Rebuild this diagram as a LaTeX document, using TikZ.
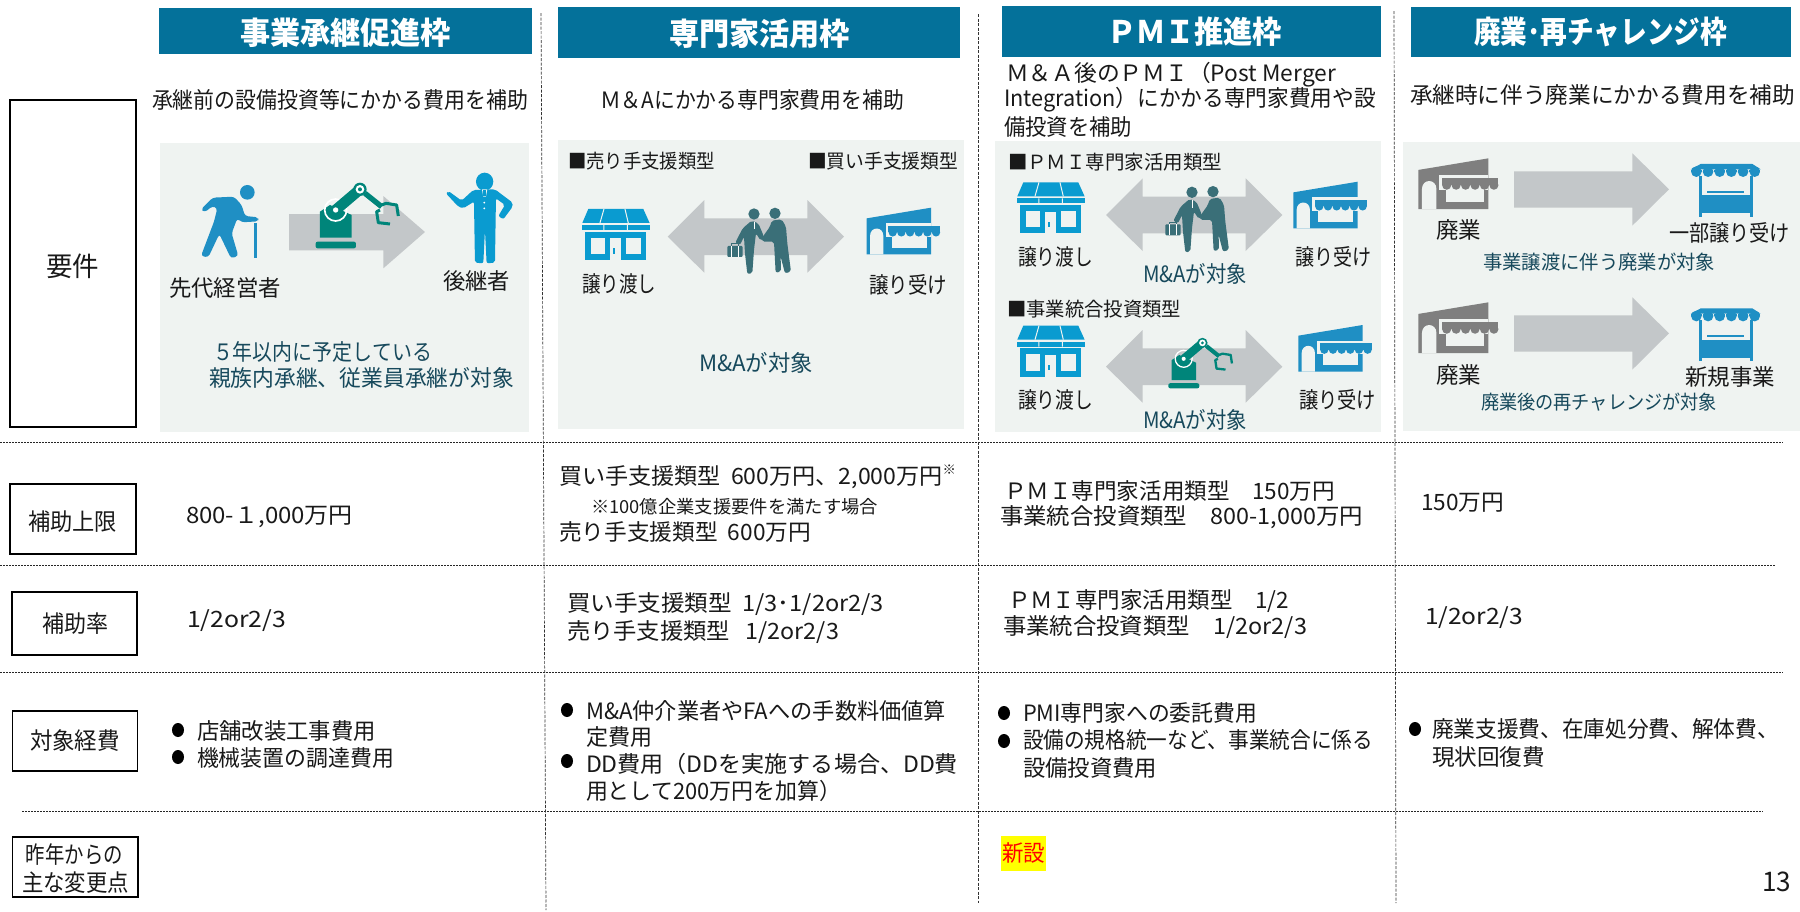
\documentclass[tikz,border=0pt]{standalone}
\usepackage{graphicx}
\usepackage{fontspec}
\setmainfont{Noto Sans CJK JP}
\definecolor{barblue}{HTML}{04719A}
\definecolor{panelbg}{HTML}{EFF3F1}
\definecolor{arrowgrey}{HTML}{C3C7C9}
\definecolor{iconblue}{HTML}{0A9BD0}
\definecolor{iconmid}{HTML}{1F8FC4}
\definecolor{icongrey}{HTML}{7F7F7F}
\definecolor{robotgreen}{HTML}{00857A}
\definecolor{mangreen}{HTML}{3A6F78}
\definecolor{noteteal}{HTML}{17495C}
\definecolor{newyellow}{HTML}{FFFF00}
\newsavebox\fitbox
\newcommand\fitw[2]{\sbox\fitbox{\rule[-.12em]{0pt}{1em}#2}\pgfmathsetmacro\fitr{#1/\the\wd\fitbox}\scalebox{\fitr}[1]{\usebox\fitbox}}
\newcommand\T[6][]{\node[tx,#1] (#2) at (#3,#4) {\fitw{#5}{#6}};}
\tikzset{
  tx/.style={anchor=west,inner sep=0pt,outer sep=0pt,text=black!90,font=\fontsize{22.5}{26}\selectfont},
  head/.style={text=white,font=\fontsize{31}{34}\selectfont\bfseries},
  small/.style={font=\fontsize{19.5}{23}\selectfont},
  note/.style={text=noteteal},
  bar/.style={fill=barblue,draw=none},
  panel/.style={fill=panelbg,draw=none},
  labelbox/.style={draw=black,line width=1.5pt,fill=white,inner sep=0pt},
  rowline/.style={draw=black!85,line width=.7pt,dash pattern=on 2pt off 1pt},
  colline/.style={draw=black!80,line width=.7pt,dash pattern=on 3pt off 1.5pt},
}
% double headed arrow, left tip at (#1,#2)
\newcommand\dblarrow[2]{\begin{scope}[shift={(#1,#2)},x=.3333pt,y=-.3333pt]
\fill[arrowgrey] (0,0)--(110,108)--(110,55)--(419,55)--(419,108)--(529,0)--(419,-110)--(419,-55)--(110,-55)--(110,-110)--cycle;
\end{scope}}
% single arrow: x, y, start of head, tip
\newcommand\onearrow[4]{\begin{scope}[shift={(#1,#2)},x=.3333pt,y=-.3333pt]
\fill[arrowgrey] (0,-54)--(#3,-54)--(#3,-108)--(#4,0)--(#3,109)--(#3,55)--(0,55)--cycle;
\end{scope}}
% store
\newcommand\storeicon[3]{\begin{scope}[shift={(#1,#2)},x=#3pt,y=-#3pt]
\fill[iconblue] (18,2)--(183,2)--(202,44)--(0,44)--cycle;
\fill[iconblue] (0,50) rectangle (202,65);
\fill[iconblue] (8,70) rectangle (191,155);
\fill[panelbg] (25,88) rectangle (68,137);
\fill[panelbg] (131,88) rectangle (175,137);
\fill[panelbg] (83,90) rectangle (115,155);
\fill[iconblue] (92,120) rectangle (98,136);
\draw[panelbg,line width=1pt] (65,2)--(53,44) (65,50)--(65,65) (128,2)--(138,44) (135,50)--(135,65);
\end{scope}}
% awning shop
\newcommand\awnshop[4]{\begin{scope}[shift={(#1,#2)},x=#3pt,y=-#3pt]
\fill[#4] (0,32)--(193,0)--(193,140)--(0,140)--cycle;
\fill[panelbg] (10,140)--(10,85).. controls (10,55) and (50,55) .. (50,85)--(50,140)--cycle;
\fill[panelbg] (57,47) rectangle (193,88);
\fill[panelbg] (75,85) rectangle (180,120);
\fill[#4] (65,54) rectangle (220,74);
\foreach \q in {78,104,130,156,182,208}{\fill[#4] (\q,74) circle (12.5);}
\end{scope}}
% stall
\newcommand\stallicon[3]{\begin{scope}[shift={(#1,#2)},x=#3pt,y=-#3pt]
\fill[iconmid] (30,2)--(185,2)--(210,18)--(0,18)--cycle;
\foreach \q in {17,52,87,122,157,192}{\fill[iconmid] (\q-16,20) rectangle (\q+16,25); \fill[iconmid] (\q,25) circle (16);}
\fill[iconmid] (24,38) rectangle (33,160);
\fill[iconmid] (178,38) rectangle (187,160);
\fill[iconmid] (24,96) rectangle (187,150);
\fill[iconmid] (50,82) rectangle (160,88);
\end{scope}}
% robot
\newcommand\robot[3]{\begin{scope}[shift={(#1,#2)},x=#3pt,y=-#3pt]
\fill[robotgreen,rounded corners=2pt] (557,335) rectangle (678,355);
\fill[robotgreen] (570,323)--(570,245)--(600,225)--(665,255)--(665,323)--cycle;
\draw[white,line width={5*#3 pt}] (617,240) circle (33);
\draw[robotgreen,line width={32*#3 pt},line cap=round] (617,240)--(690,178);
\fill[white] (617,240) circle (8);
\fill[robotgreen] (690,178) circle (20);
\fill[white] (690,178) circle (13);
\fill[robotgreen] (690,178) circle (6);
\draw[robotgreen,line width={16*#3 pt}] (705,190)--(755,230);
\draw[robotgreen,line width={9*#3 pt},line join=round] (755,225)--(768,220)--(800,225)--(805,258);
\draw[robotgreen,line width={9*#3 pt},line join=round] (750,240)--(740,245)--(745,278)--(780,282);
\end{scope}}
% handshake
\newcommand\shakeicon[3]{\begin{scope}[shift={(#1,#2)},x=#3pt,y=-#3pt]
\fill[mangreen] (612,252) circle (17);
\fill[mangreen] (675,250) circle (17);
\fill[mangreen,rounded corners=2pt] (605,272)--(625,280)--(640,315)--(642,328)--(632,332)--(618,310)--(612,360)--(607,430)--(592,432)--(585,370)--(582,320)--(570,345)--(556,338)--(578,295)--cycle;
\draw[white,line width=.5pt] (612,275)--(612,298);
\fill[mangreen,rounded corners=2pt] (665,272)--(695,268)--(708,290)--(712,340)--(723,425)--(705,430)--(692,380)--(693,425)--(677,428)--(672,335)--(650,335)--(637,335)--(635,325)--(660,290)--cycle;
\fill[mangreen,rounded corners=1pt] (532,348) rectangle (578,381);
\draw[mangreen,line width=.8pt] (545,348)--(545,341)--(565,341)--(565,348);
\draw[white,line width=.5pt] (545,348)--(545,381) (565,348)--(565,381);
\end{scope}}
% old man with a cane
\newcommand\oldman[3]{\begin{scope}[shift={(#1,#2)},x=#3pt,y=-#3pt]
\fill[iconmid] (352,187) circle (22);
\fill[iconmid,rounded corners=3pt] (213,238)--(248,203)--(312,200)--(335,225)--(345,258)--(385,262)--(385,274)--(335,277)--(322,265)--(305,310)--(325,378)--(303,385)--(268,312)--(235,382)--(213,378)--(252,275)--(262,235)--(248,228)--(224,247)--cycle;
\fill[iconmid] (373,280) rectangle (381,385);
\end{scope}}
% businessman
\newcommand\bossman[3]{\begin{scope}[shift={(#1,#2)},x=#3pt,y=-#3pt]
\fill[iconblue] (1064,155) ellipse (26 and 27);
\fill[iconblue,rounded corners=2pt] (948,190)--(955,183)--(995,212)--(1030,180)--(1095,178)--(1148,218)--(1148,230)--(1120,268)--(1105,258)--(1125,225)--(1098,205)--(1095,398)--(1070,400)--(1065,300)--(1060,400)--(1035,398)--(1032,215)--(1000,235)--(985,230)--cycle;
\fill[panelbg] (1056,178)--(1072,178)--(1068,200)--(1060,200)--cycle;
\fill[iconblue] (1060,180) rectangle (1068,198);
\fill[white] (1063,218) circle (3);
\fill[white] (1063,235) circle (3);
\end{scope}}
\begin{document}
\begin{tikzpicture}[x=1pt,y=-1pt]
\useasboundingbox (0,0) rectangle (1800,911);
\fill[white] (0,0) rectangle (1800,911);
% panels
\fill[panel] (160,143) rectangle (529,432);
\fill[panel] (558,140) rectangle (964,429);
\fill[panel] (995,141) rectangle (1381,432);
\fill[panel] (1403,142) rectangle (1800,431);
% header bars
\fill[bar] (159,8) rectangle (532,54);
\fill[bar] (558,7) rectangle (960,58);
\fill[bar] (1002,6) rectangle (1381,57);
\fill[bar] (1411,7) rectangle (1791,57);
% grid lines
\draw[rowline] (0,442)--(1783,442);
\draw[rowline] (0,565)--(1775,565);
\draw[rowline] (0,672)--(1783,672);
\draw[rowline] (22,811)--(1763,811);
\draw[colline] (541,13)--(546,910);
\draw[colline] (978,14)--(978,903);
\draw[colline] (1394,11)--(1396,903);
% label boxes
\node[labelbox,minimum width=126pt,minimum height=327pt] (boxreq) at (73,263.5) {};
\node[labelbox,minimum width=126pt,minimum height=70pt] (boxcap) at (73,519) {};
\node[labelbox,minimum width=125pt,minimum height=63pt] (boxrate) at (74.5,623.5) {};
\node[labelbox,minimum width=125pt,minimum height=60pt] (boxcost) at (75,741) {};
\node[labelbox,minimum width=125.5pt,minimum height=60pt] (boxchange) at (75.2,867) {};
\T[font=\fontsize{27}{30}\selectfont]{treq}{46}{266}{53}{要件}
\T[font=\fontsize{23.5}{26}\selectfont]{tcap}{28}{522}{89}{補助上限}
\T[font=\fontsize{23.5}{26}\selectfont]{trate}{42}{624}{66}{補助率}
\T[font=\fontsize{23.5}{26}\selectfont]{tcost}{30}{741}{90}{対象経費}
\T[font=\fontsize{23.5}{26}\selectfont]{tch1}{26}{855}{97}{昨年からの}
\T[font=\fontsize{23.5}{26}\selectfont]{tch2}{22}{883}{107}{主な変更点}
% headers
\T[head]{h1}{240}{33}{211}{事業承継促進枠}
\T[head]{h2}{669}{34}{181}{専門家活用枠}
\T[head]{h3}{1107}{32}{175}{ＰＭＩ推進枠}
\T[head]{h4}{1474}{32}{253}{廃業･再チャレンジ枠}
% subtitles
\T{s1}{152}{100}{376}{承継前の設備投資等にかかる費用を補助}
\T{s2}{600}{100}{304}{Ｍ＆Aにかかる専門家費用を補助}
\T{s3a}{1006}{74}{330}{Ｍ＆Ａ後のＰＭＩ（Post Merger}
\T{s3b}{1004}{99}{372}{Integration）にかかる専門家費用や設}
\T{s3c}{1004}{127}{128}{備投資を補助}
\T{s4}{1410}{95}{385}{承継時に伴う廃業にかかる費用を補助}
% panel 1
\onearrow{289}{232}{283}{408}
\oldman{130}{130}{.3333}
\robot{130}{130}{.3333}
\bossman{130}{130}{.3333}
\T{p1a}{169}{288}{112}{先代経営者}
\T{p1b}{443}{281}{67}{後継者}
\T[note]{p1c}{213}{352}{219}{５年以内に予定している}
\T[note]{p1d}{209}{378}{305}{親族内承継、従業員承継が対象}
% panel 2
\T[small]{p2a}{568}{161}{147}{■売り手支援類型}
\T[small]{p2b}{808}{161}{150}{■買い手支援類型}
\dblarrow{667.7}{236.7}
\shakeicon{550}{130}{.3333}
\storeicon{582.3}{208.3}{.3333}
\awnshop{866.7}{207.7}{.3333}{iconmid}
\T{p2c}{582}{284}{74}{譲り渡し}
\T{p2d}{869}{285}{78}{譲り受け}
\T[note]{p2e}{699}{363}{114}{M\&Aが対象}
% panel 3
\T[small]{p3a}{1008}{162}{214}{■ＰＭＩ専門家活用類型}
\dblarrow{1106}{215}
\shakeicon{988}{108.3}{.3333}
\storeicon{1017.3}{181.7}{.3333}
\awnshop{1293.3}{181.7}{.3333}{iconmid}
\T{p3b}{1018}{257}{75}{譲り渡し}
\T{p3c}{1295}{257}{76}{譲り受け}
\T[note]{p3d}{1143}{274}{104}{M\&Aが対象}
\T[small]{p3e}{1007}{309}{174}{■事業統合投資類型}
\dblarrow{1106}{366.7}
\robot{1025.3}{297.2}{.2567}
\storeicon{1017.3}{325}{.3333}
\awnshop{1298.3}{325}{.3333}{iconmid}
\T{p3f}{1018}{400}{75}{譲り渡し}
\T{p3g}{1299}{400}{77}{譲り受け}
\T[note]{p3h}{1143}{420}{104}{M\&Aが対象}
% panel 4
\awnshop{1418.3}{158.3}{.3636}{icongrey}
\onearrow{1514}{189.3}{355}{465}
\stallicon{1690.7}{163.3}{.3333}
\T{p4a}{1436}{230}{45}{廃業}
\T{p4b}{1669}{233}{121}{一部譲り受け}
\T[note,small]{p4c}{1483}{262}{232}{事業譲渡に伴う廃業が対象}
\awnshop{1418.3}{302.3}{.3636}{icongrey}
\onearrow{1514}{333.3}{355}{465}
\stallicon{1690.7}{307.7}{.3333}
\T{p4d}{1436}{375}{45}{廃業}
\T{p4e}{1685}{377}{90}{新規事業}
\T[note,small]{p4f}{1481}{402}{236}{廃業後の再チャレンジが対象}
% row: cap
\T{c1}{186}{516}{167}{800-１,000万円}
\T{c2a}{559}{477}{397}{買い手支援類型\ \ 600万円、2,000万円\raisebox{.45em}{\fontsize{13}{13}\selectfont ※}}
\T[font=\fontsize{18}{21}\selectfont]{c2b}{591}{507}{287}{※100億企業支援要件を満たす場合}
\T{c2c}{559}{532}{252}{売り手支援類型\ \ 600万円}
\T{c3a}{1004}{491}{331}{ＰＭＩ専門家活用類型　150万円}
\T{c3b}{1000}{517}{363}{事業統合投資類型　800-1,000万円}
\T{c4}{1421}{502}{83}{150万円}
% row: rate
\T{r1}{187}{620}{99}{1/2or2/3}
\T{r2a}{567}{604}{317}{買い手支援類型\ \ 1/3･1/2or2/3}
\T{r2b}{567}{632}{272}{売り手支援類型\ \ \ 1/2or2/3}
\T{r3a}{1008}{601}{281}{ＰＭＩ専門家活用類型　1/2}
\T{r3b}{1003}{627}{304}{事業統合投資類型　1/2or2/3}
\T{r4}{1425}{617}{98}{1/2or2/3}
% row: cost
\fill[black] (178,730) ellipse (6 and 7);
\fill[black] (178,757) ellipse (6 and 7);
\T{e1a}{197}{731}{179}{店舗改装工事費用}
\T{e1b}{197}{758}{197}{機械装置の調達費用}
\fill[black] (567,710) ellipse (6 and 7);
\fill[black] (567,761) ellipse (6 and 7);
\T{e2a}{586}{711}{360}{M\&A仲介業者やFAへの手数料価値算}
\T{e2b}{586}{737}{66}{定費用}
\T{e2c}{586}{764}{372}{DD費用（DDを実施する場合、DD費}
\T{e2d}{586}{791}{255}{用として200万円を加算）}
\fill[black] (1004,713) ellipse (6 and 7);
\fill[black] (1004,741) ellipse (6 and 7);
\T{e3a}{1023}{713}{234}{PMI専門家への委託費用}
\T{e3b}{1023}{740}{350}{設備の規格統一など、事業統合に係る}
\T{e3c}{1023}{768}{134}{設備投資費用}
\fill[black] (1415,729) ellipse (6 and 7);
\T{e4a}{1432}{729}{347}{廃業支援費、在庫処分費、解体費、}
\T{e4b}{1432}{757}{113}{現状回復費}
% new
\fill[newyellow] (1001,836) rectangle (1046,871);
\T[text=red]{newtag}{1002}{853}{43}{新設}
\T[font=\fontsize{27}{30}\selectfont]{pageno}{1762}{881}{29}{13}
\end{tikzpicture}
\end{document}
